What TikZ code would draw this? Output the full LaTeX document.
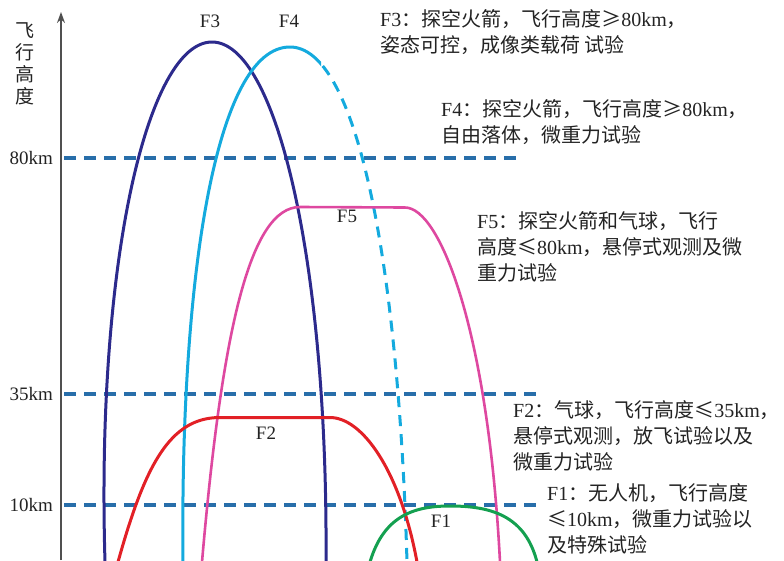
\documentclass[tikz,border=0pt]{standalone}
\usepackage{fontspec}
\setmainfont{Liberation Serif}
\newfontfamily\cjk{Noto Sans CJK SC}
\newcommand{\C}[1]{{\cjk #1}}
\usetikzlibrary{arrows.meta}
\definecolor{navyF}{RGB}{44,42,140}
\definecolor{cyanF}{RGB}{20,170,222}
\definecolor{pinkF}{RGB}{222,72,160}
\definecolor{redF}{RGB}{226,32,38}
\definecolor{greenF}{RGB}{20,160,80}
\definecolor{levelblue}{RGB}{40,110,170}
\definecolor{axisgray}{RGB}{80,80,80}
\definecolor{txt}{RGB}{35,35,35}
\begin{document}
\begin{tikzpicture}[x=1pt,y=-1pt,
  level/.style={levelblue, line width=4pt, dash pattern=on 12pt off 8pt},
  curve/.style={line width=3pt, line join=round},
  lbl/.style={font=\fontsize{19}{22}\selectfont, text=txt, inner sep=0pt},
  desc/.style={font=\fontsize{20}{26}\selectfont, text=txt, align=left, anchor=north west, inner sep=0pt},
  ffourpath/.style={insert path={(183,562) .. controls (180,280) and (215,47) .. (290,47) .. controls (355,47) and (398,250) .. (407,562)}}]
\useasboundingbox (0,0) rectangle (784,560);
% levels
\coordinate (l80a) at (64,158); \coordinate (l80b) at (522,158);
\coordinate (l35a) at (64,394); \coordinate (l35b) at (538,394);
\coordinate (l10a) at (64,505); \coordinate (l10b) at (538,505);
\draw[level] (l80a) -- (l80b);
\draw[level] (l35a) -- (l35b);
\draw[level] (l10a) -- (l10b);
% axis
\coordinate (ax0) at (61,560); \coordinate (ax1) at (61,12);
\draw[axisgray, line width=1.5pt, -{Stealth[length=11pt,width=8pt]}] (ax0) -- (ax1);
\node[lbl, anchor=east] (t80) at (53,158) {80km};
\node[lbl, anchor=east] (t35) at (53,394) {35km};
\node[lbl, anchor=east] (t10) at (53,505) {10km};
\node[lbl, align=center, font=\cjk\fontsize{19}{22}\selectfont] (yl) at (25,64) {飞\\行\\高\\度};
% F3
\draw[curve, navyF] (105,562) .. controls (96,260) and (148,42) .. (212,42)
                              .. controls (276,42) and (328,260) .. (326,562);
% F4 (solid up to the top, dashed after)
\begin{scope}
  \clip (0,0) rectangle (321,562);
  \draw[curve, cyanF, ffourpath];
\end{scope}
\begin{scope}
  \clip (321,0) rectangle (784,562);
  \draw[curve, cyanF, dash pattern=on 11pt off 8pt, dash phase=2pt, ffourpath];
\end{scope}
% F5
\draw[curve, pinkF, line width=2.6pt] (202,562) .. controls (222,330) and (250,207) .. (300,207)
   -- (405,207.5) .. controls (440,207.5) and (488,330) .. (500,562);
% F2
\draw[curve, redF] (118,562) .. controls (145,465) and (170,417.5) .. (220,417.5)
   -- (330,417.5) .. controls (362,417.5) and (400,470) .. (417,562);
% F1
\draw[curve, greenF] (370,562) .. controls (384,515) and (415,506) .. (450,506)
   .. controls (490,506) and (525,515) .. (537,562);
% curve labels
\node[lbl] (nF3) at (210,21) {F3};
\node[lbl] (nF4) at (289,21) {F4};
\node[lbl] (nF5) at (347,216) {F5};
\node[lbl] (nF2) at (266,433) {F2};
\node[lbl] (nF1) at (441,521) {F1};
% descriptions
\node[desc] (dF3) at (380,9) {F3\C{：探空火箭，飞行高度≥}80km\C{，}\\\C{姿态可控，成像类载荷 试验}};
\node[desc] (dF4) at (441,99) {F4\C{：探空火箭，飞行高度≥}80km\C{，}\\\C{自由落体，微重力试验}};
\node[desc] (dF5) at (477,211) {F5\C{：探空火箭和气球，飞行}\\\C{高度≤}80km\C{，悬停式观测及微}\\\C{重力试验}};
\node[desc] (dF2) at (513,400) {F2\C{：气球，飞行高度≤}35km\C{，}\\\C{悬停式观测，放飞试验以及}\\\C{微重力试验}};
\node[desc] (dF1) at (547,483) {F1\C{：无人机，飞行高度}\\\C{≤}10km\C{，微重力试验以}\\\C{及特殊试验}};
\end{tikzpicture}
\end{document}
